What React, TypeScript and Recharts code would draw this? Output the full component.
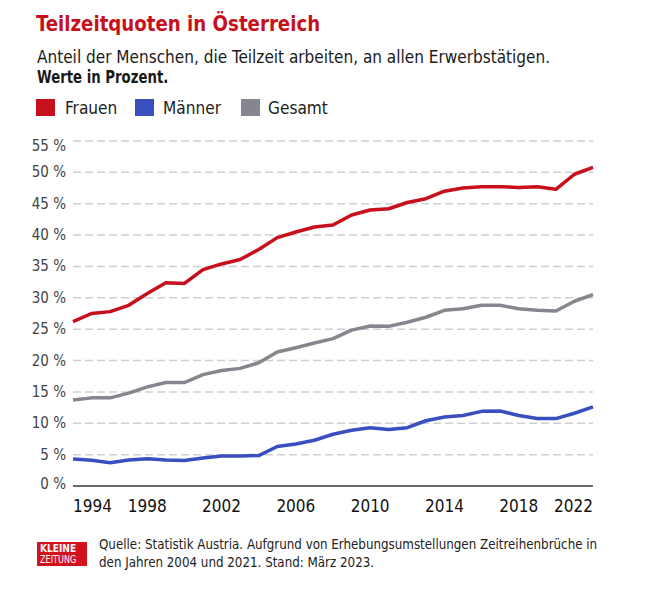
import React from "react";
import { LineChart, Line, XAxis, YAxis, CartesianGrid } from "recharts";

const years = [1994, 1995, 1996, 1997, 1998, 1999, 2000, 2001, 2002, 2003, 2004, 2005, 2006, 2007, 2008, 2009, 2010, 2011, 2012, 2013, 2014, 2015, 2016, 2017, 2018, 2019, 2020, 2021, 2022];
const frauen = [26.2, 27.5, 27.8, 28.8, 30.7, 32.4, 32.3, 34.5, 35.4, 36.1, 37.7, 39.6, 40.5, 41.3, 41.6, 43.2, 44.0, 44.2, 45.2, 45.8, 47.0, 47.5, 47.7, 47.7, 47.6, 47.7, 47.3, 49.7, 50.8];
const maenner = [4.3, 4.1, 3.7, 4.15, 4.35, 4.15, 4.05, 4.45, 4.8, 4.8, 4.85, 6.3, 6.7, 7.3, 8.25, 8.9, 9.3, 9.0, 9.3, 10.4, 11.0, 11.25, 11.9, 11.95, 11.25, 10.75, 10.75, 11.6, 12.6];
const gesamt = [13.7, 14.05, 14.05, 14.8, 15.8, 16.5, 16.5, 17.75, 18.4, 18.75, 19.65, 21.35, 22.05, 22.8, 23.5, 24.85, 25.5, 25.45, 26.1, 26.9, 28.0, 28.25, 28.8, 28.8, 28.25, 28.0, 27.9, 29.45, 30.5];
const xTicks = [1994, 1998, 2002, 2006, 2010, 2014, 2018, 2022];
const yTicks = [0, 5, 10, 15, 20, 25, 30, 35, 40, 45, 50, 55];

const seriesNames = { frauen: "Frauen", maenner: "Männer", gesamt: "Gesamt" };
const colors = { frauen: "#c8101c", maenner: "#3a4fbf", gesamt: "#85868e" };

const data = years.map((y, i) => ({ year: y, frauen: frauen[i], maenner: maenner[i], gesamt: gesamt[i] }));

const FONT = "'DejaVu Sans Condensed', 'DejaVu Sans', sans-serif";

const Squeeze = ({ s, children }: { s: number; children: React.ReactNode }) => (
  <span style={{ display: "inline-block", transform: `scaleX(${s})`, transformOrigin: "left center", whiteSpace: "nowrap" }}>{children}</span>
);

const XTick = (props: any) => {
  const { x, y, payload } = props;
  const first = payload.value === xTicks[0];
  const last = payload.value === xTicks[xTicks.length - 1];
  return (
    <text x={x} y={y} dy={26} textAnchor={first ? "start" : last ? "end" : "middle"} fill="#111" fontSize={17} fontFamily={FONT}>
      {payload.value}
    </text>
  );
};

const YTick = (props: any) => {
  const { x, y, payload } = props;
  const shift = payload.value === 55 ? 5 : payload.value === 0 ? -2 : 0;
  return (
    <text x={x} y={y + shift} dy={5} textAnchor="end" fill="#444" fontSize={15} fontFamily={FONT}>
      {payload.value + " %"}
    </text>
  );
};

const legendItems = [
  { key: "frauen" as const, sq: 36, tx: 65 },
  { key: "maenner" as const, sq: 135, tx: 163 },
  { key: "gesamt" as const, sq: 241, tx: 268 },
];

export default function App() {
  return (
    <div style={{ position: "absolute", left: 0, top: 0, width: 660, height: 592, background: "#fff", fontFamily: FONT }}>
      <div style={{ position: "absolute", left: 36, top: 12.5, fontSize: 21.5, lineHeight: "21.5px", fontWeight: 700, color: "#c8101c" }}>
        <Squeeze s={0.94}>Teilzeitquoten in Österreich</Squeeze>
      </div>
      <div style={{ position: "absolute", left: 37, top: 47.5, fontSize: 18, lineHeight: "18px", color: "#1a1a1a" }}>
        <Squeeze s={0.946}>Anteil der Menschen, die Teilzeit arbeiten, an allen Erwerbstätigen.</Squeeze>
      </div>
      <div style={{ position: "absolute", left: 37, top: 68, fontSize: 18, lineHeight: "18px", fontWeight: 700, color: "#1a1a1a" }}>
        <Squeeze s={0.82}>Werte in Prozent.</Squeeze>
      </div>
      {legendItems.map((it) => (
        <React.Fragment key={it.key}>
          <div style={{ position: "absolute", left: it.sq, top: 99, width: 19, height: 17, background: colors[it.key] }} />
          <div style={{ position: "absolute", left: it.tx, top: 98, fontSize: 18, lineHeight: "20px", color: "#222" }}>
            <Squeeze s={0.95}>{seriesNames[it.key]}</Squeeze>
          </div>
        </React.Fragment>
      ))}
      <div style={{ position: "absolute", left: 0, top: 0 }}>
        <LineChart width={660} height={592} data={data} margin={{ top: 141, right: 67, bottom: 76, left: 0 }}>
          <CartesianGrid vertical={false} stroke="#cfcfcf" strokeDasharray="8 4" strokeWidth={1.5} />
          <XAxis dataKey="year" type="number" domain={[1994, 2022]} ticks={xTicks} tick={<XTick />} tickLine={false} tickSize={0} tickMargin={0} axisLine={{ stroke: "#6a6a6a", strokeWidth: 2 }} height={30} interval={0} />
          <YAxis domain={[0, 55]} ticks={yTicks} tick={<YTick />} tickLine={false} tickSize={0} tickMargin={7} axisLine={false} width={73} interval={0} />
          <Line dataKey="gesamt" stroke={colors.gesamt} strokeWidth={3.5} dot={false} isAnimationActive={false} strokeLinejoin="round" />
          <Line dataKey="maenner" stroke={colors.maenner} strokeWidth={3.5} dot={false} isAnimationActive={false} strokeLinejoin="round" />
          <Line dataKey="frauen" stroke={colors.frauen} strokeWidth={3.5} dot={false} isAnimationActive={false} strokeLinejoin="round" />
        </LineChart>
      </div>
      <div style={{ position: "absolute", left: 37, top: 542, width: 50, height: 24, background: "#d4121e", color: "#fff" }}>
        <div style={{ position: "absolute", left: 3, top: 0, fontSize: 10.5, fontWeight: 700 }}>
          <Squeeze s={0.96}>KLEINE</Squeeze>
        </div>
        <div style={{ position: "absolute", left: 3, top: 12.3, fontSize: 10 }}>
          <Squeeze s={0.9}>ZEITUNG</Squeeze>
        </div>
      </div>
      <div style={{ position: "absolute", left: 99, top: 535, fontSize: 14, lineHeight: "18px", color: "#222" }}>
        <Squeeze s={0.945}>Quelle: Statistik Austria. Aufgrund von Erhebungsumstellungen Zeitreihenbrüche in</Squeeze>
        <br />
        <Squeeze s={0.945}>den Jahren 2004 und 2021. Stand: März 2023.</Squeeze>
      </div>
    </div>
  );
}
